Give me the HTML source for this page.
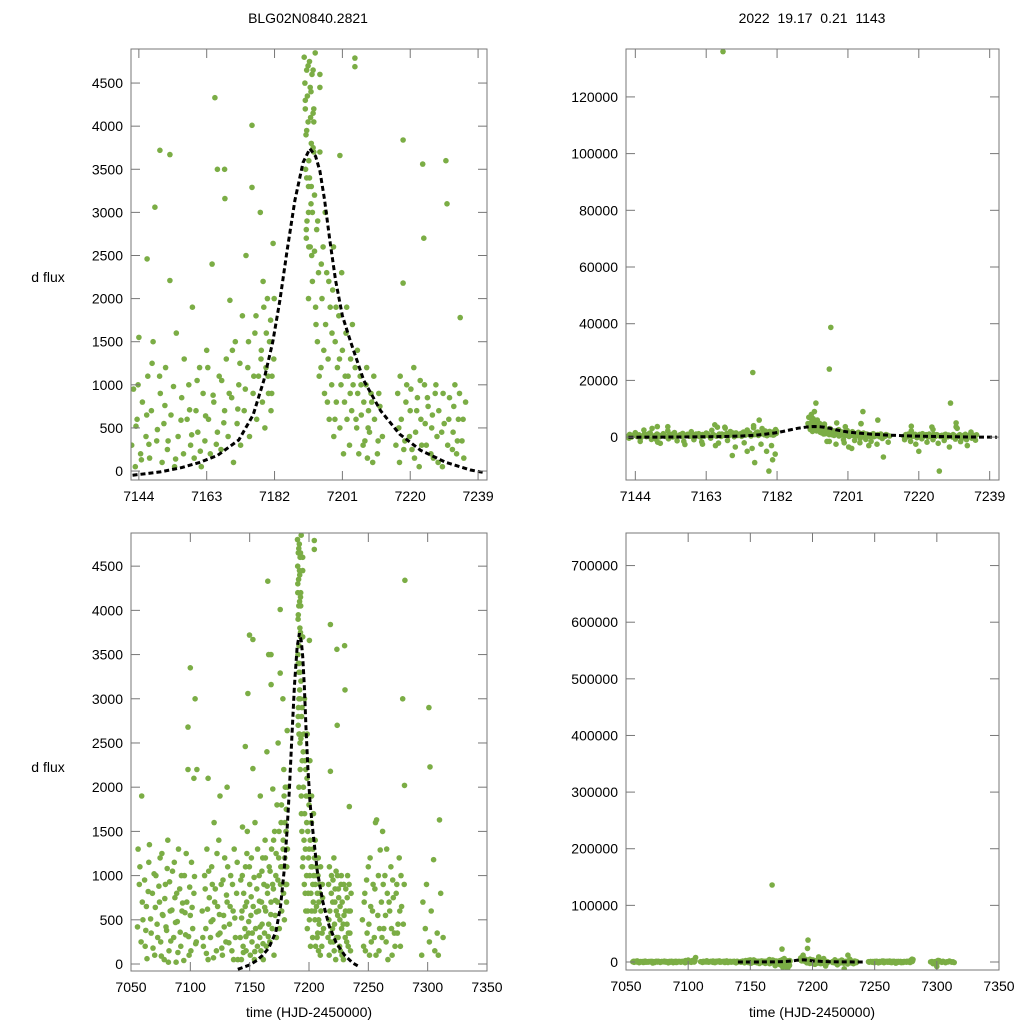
<!DOCTYPE html>
<html><head><meta charset="utf-8"><style>
html,body{margin:0;padding:0;background:#fff}
svg{display:block;font-family:"Liberation Sans",sans-serif}
</style></head><body>
<svg id="chart" width="1024" height="1024" viewBox="0 0 1024 1024" xmlns="http://www.w3.org/2000/svg">
<rect width="1024" height="1024" fill="#fff"/>
<text x="308" y="23" font-size="14" text-anchor="middle">BLG02N0840.2821</text>
<text x="812" y="23" font-size="14" text-anchor="middle" xml:space="preserve">2022  19.17  0.21  1143</text>
<text x="48" y="282" font-size="14" text-anchor="middle">d flux</text>
<text x="48" y="772" font-size="14" text-anchor="middle">d flux</text>
<text x="309" y="1017" font-size="14" text-anchor="middle">time (HJD-2450000)</text>
<text x="812" y="1017" font-size="14" text-anchor="middle">time (HJD-2450000)</text>
</svg>
<script>
const season1=[[7056,1300],[7057,900],[7059,1900],[7060,500],[7062,200],[7063,650],[7065,1150],[7066,-300],[7067,350],[7068,800],[7070,100],[7071,1000],[7072,450],[7073,-800],[7074,700],[7075,250],[7076,1250],[7077,550],[7078,50],[7079,900],[7080,380],[7081,1400],[7082,150],[7083,600],[7084,-1500],[7085,1050],[7086,300],[7087,750],[7088,20],[7089,480],[7090,1300],[7091,850],[7092,200],[7093,600],[7094,-400],[7095,1000],[7096,330],[7097,700],[7098,2200],[7099,100],[7100,550],[7101,1150],[7102,400],[7103,800],[7104,3000],[7105,250],[7106,8000],[7100,3350],[7103,2100],[7098,2680],[7064,-900],[7088,-1200]];
const season1b=[[7055.5,420],[7056.5,-600],[7057.5,1100],[7058.5,250],[7059.5,700],[7060.5,-1200],[7061.5,950],[7062.5,380],[7063.5,60],[7064.5,820],[7065.5,1350],[7066.5,510],[7067.5,-250],[7068.5,180],[7069.5,1020],[7070.5,640],[7071.5,-1800],[7072.5,300],[7073.5,880],[7074.5,1200],[7075.5,90],[7076.5,560],[7077.5,-700],[7078.5,740],[7079.5,420],[7080.5,1080],[7081.5,20],[7082.5,930],[7083.5,260],[7084.5,610],[7085.5,-350],[7086.5,1150],[7087.5,470],[7088.5,800],[7089.5,130],[7090.5,-900],[7091.5,360],[7092.5,1000],[7093.5,690],[7094.5,40],[7095.5,580],[7096.5,1250],[7097.5,-1300],[7098.5,310],[7099.5,870],[7100.5,150],[7101.5,640],[7102.5,-500],[7103.5,990],[7104.5,230],[7105.5,2200]];
const season2=[[7110,600],[7111,200],[7112,1000],[7113,400],[7114,1300],[7115,50],[7116,750],[7117,300],[7118,1100],[7119,500],[7120,-600],[7121,850],[7122,150],[7123,650],[7124,1400],[7125,350],[7126,900],[7127,100],[7128,550],[7129,1200],[7130,250],[7131,700],[7132,-900],[7133,450],[7134,1000],[7135,150],[7136,600],[7137,1300],[7138,300],[7139,800],[7140,50],[7115,2100],[7125,1900],[7131,2000],[7120,1600]];
const season2b=[[7110.5,300],[7111.5,-700],[7112.5,850],[7113.5,120],[7114.5,620],[7115.5,1050],[7116.5,-300],[7117.5,480],[7118.5,900],[7119.5,70],[7120.5,700],[7121.5,-1100],[7122.5,1250],[7123.5,330],[7124.5,560],[7125.5,-400],[7126.5,180],[7127.5,950],[7128.5,420],[7129.5,-800],[7130.5,780],[7131.5,1100],[7132.5,240],[7133.5,650],[7134.5,-200],[7135.5,900],[7136.5,50],[7137.5,520],[7138.5,-1400],[7139.5,1150]];
const season3=[[7142,300],[7142.5,950],[7143,50],[7143.5,600],[7144,1550],[7144.5,200],[7145,800],[7145.5,-200],[7146,400],[7146.3,2460],[7146.5,1100],[7147,150],[7147.5,700],[7148,1500],[7148.5,3060],[7149,350],[7149.5,-700],[7149.9,3720],[7150,900],[7150.5,100],[7151,550],[7151.5,1200],[7152,250],[7152.7,3670],[7152.7,2210],[7153,650],[7154,50],[7154.5,1600],[7155,400],[7155.4,763000],[7156,850],[7156.5,200],[7157,-1500],[7157.5,600],[7158,1000],[7158.5,300],[7159,1900],[7159.5,150],[7160,700],[7160.5,450],[7161,1200],[7161.5,50],[7162,900],[7162.5,350],[7163,1400],[7163.5,600],[7164,200],[7164.5,2400],[7165,800],[7165.3,4330],[7165.5,-3000],[7166,450],[7166.5,1100],[7167,250],[7167.5,136000],[7168,700],[7168.1,3160],[7168.5,1300],[7169,400],[7169.5,1980],[7170,850],[7170.5,100],[7171,1500],[7171.5,550],[7172,1000],[7172.5,300],[7173,1800],[7173.5,700],[7174,-5000],[7174.5,1200],[7175,400],[7175.5,22800],[7175.7,4010],[7175.7,3290],[7176,900],[7176.5,1600],[7177,600],[7177.5,1100],[7178.3,1400],[7178.6,800],[7179,1900],[7179.3,500],[7179.6,1200],[7180,2000],[7180.3,900],[7180.6,1500],[7181,700],[7181.3,1100],[7181.6,2640],[7181.8,1300],[7180.8,-8000],[7179.8,-12000],[7177.2,6000],[7176,-9000],[7162,-2500],[7150,-1800],[7168,3500]];
const season3b=[[7142.3,-400],[7143.2,520],[7143.8,1000],[7144.7,130],[7145.3,-1500],[7146.2,650],[7146.8,310],[7147.7,1250],[7148.3,-800],[7149.2,480],[7149.8,1100],[7150.7,-2200],[7151.3,760],[7152.2,350],[7152.9,-600],[7153.7,980],[7154.3,140],[7155.2,-1300],[7155.8,590],[7156.7,1300],[7157.3,-2600],[7158.2,710],[7158.8,420],[7159.7,-900],[7160.3,1050],[7161.2,230],[7161.8,-1700],[7162.7,640],[7163.3,1200],[7164.2,-400],[7164.8,880],[7165.7,310],[7166.3,-2100],[7167.2,1050],[7167.8,560],[7168.7,-1200],[7169.3,900],[7170.2,1400],[7170.8,-3500],[7171.7,720],[7172.3,1250],[7173.2,-2000],[7173.8,950],[7174.7,1500],[7175.3,-4000],[7176.2,1100],[7176.8,1800],[7177.7,-2500],[7178.2,1300],[7178.8,2200],[7179.2,-5000],[7179.7,1600],[7180.2,1100],[7180.5,-3000],[7180.9,1750],[7181.2,900],[7181.5,-6000],[7181.9,2000],[7178.0,3000],[7174.0,2500],[7170.0,-6500],[7166.0,3500]];
const peakSeason=[[7190.3,4800],[7190.5,4500],[7190.6,4200],[7190.8,3900],[7191,4650],[7191.2,4350],[7191.4,4050],[7191.6,3600],[7191.8,4750],[7192,4450],[7192.1,4100],[7192.3,3800],[7192.5,4600],[7190.7,3500],[7191.5,3300],[7192.2,3100],[7191.1,2900],[7190.9,2700],[7192.4,2500],[7191.3,5500],[7191.7,6500],[7192,9000],[7190.5,7000],[7191.5,2000],[7192.8,4650],[7192.8,4150],[7192.8,3750],[7190.6,4300],[7191,3950],[7191.4,4700],[7191.8,3400],[7192.2,4400],[7192.6,3000],[7193,3700],[7193.4,4850],[7190.9,2800],[7191.6,2600],[7192.4,12000],[7191.2,8000],[7192.8,6000],[7193.2,3200],[7191.7,5200]];
const declineSeason=[[7191,3400],[7191.5,3000],[7192,2600],[7192.3,3300],[7192.6,2200],[7193,4200],[7193,4050],[7193.2,2550],[7193.5,1900],[7193.8,2800],[7194,1500],[7194.3,2300],[7194.7,4600],[7194.7,4450],[7194.7,3700],[7195,1200],[7195.3,2000],[7195.6,2600],[7196,900],[7196.3,1700],[7196.4,38700],[7196,24000],[7196.6,2300],[7197,1300],[7197.3,600],[7197.6,1900],[7198,1000],[7198.3,2100],[7198.6,400],[7199,1500],[7199.3,800],[7199.6,1200],[7200,1800],[7200.3,3660],[7200.3,500],[7200.6,1000],[7201,1400],[7201.3,200],[7201.6,800],[7202,1600],[7202.3,600],[7202.6,1100],[7203,300],[7203.3,1300],[7203.6,700],[7204,1000],[7204.5,4790],[7204.5,4690],[7204.3,-500],[7204.6,1200],[7205,500],[7205.3,900],[7205.6,200],[7206,1100],[7206.3,650],[7206.6,-3000],[7207,800],[7207.3,350],[7207.6,1000],[7208,150],[7208.3,700],[7208.6,450],[7209,900],[7209.5,100],[7210,600],[7210.5,-7000],[7211,350],[7211.5,750],[7205,9000],[7209,6000],[7198,5000],[7202,-4000],[7200,-2000],[7196,-1500],[7216,300],[7216.5,900],[7217,100],[7217.5,600],[7218,2180],[7218,3840],[7218.5,350],[7219,1000],[7219.5,-200],[7220,700],[7220.5,250],[7221,1200],[7221.5,450],[7222,850],[7222.5,50],[7223,600],[7223.5,3560],[7223.8,2700],[7224,1000],[7224.5,300],[7225,750],[7225.5,-12000],[7226,500],[7226.5,150],[7227,900],[7227.5,400],[7228,700],[7228.5,12000],[7229,50],[7229.5,550],[7230,3600],[7230.3,3100],[7230.5,300],[7231,850],[7231.5,-500],[7232,450],[7232.5,1000],[7233,200],[7233.5,600],[7234,1780],[7234.5,350],[7235,150],[7235.5,800],[7220,-5000],[7230,5000],[7233,-3000]];
const declineSeasonB=[[7193.6,1700],[7194.1,2900],[7194.5,1100],[7195.1,2400],[7195.4,-1500],[7195.8,1400],[7196.2,3000],[7196.8,800],[7197.2,2200],[7197.8,-2500],[7198.1,1600],[7198.5,2600],[7198.9,600],[7199.2,1900],[7199.8,-1000],[7200.2,1300],[7200.8,2300],[7201.2,-3500],[7201.8,1100],[7202.2,1900],[7202.8,-1200],[7203.2,900],[7203.8,1700],[7204.2,-2000],[7204.8,600],[7205.2,1400],[7205.8,-800],[7206.2,1000],[7206.8,300],[7207.2,-1500],[7207.8,1200],[7208.2,500],[7208.8,-2500],[7209.2,800],[7209.8,1100],[7210.2,-500],[7210.8,200],[7211.2,900],[7211.8,-1800],[7212.2,400],[7216.2,-900],[7216.8,500],[7217.2,1100],[7217.8,-1500],[7218.2,250],[7218.8,800],[7219.2,-2500],[7219.8,400],[7220.2,950],[7220.8,-600],[7221.2,150],[7221.8,700],[7222.2,-1800],[7222.8,1050],[7223.2,300],[7223.8,-900],[7224.2,550],[7224.8,850],[7225.2,-2200],[7225.8,200],[7226.2,650],[7226.8,-1200],[7227.2,1000],[7227.8,100],[7228.2,-3500],[7228.8,450],[7229.2,900],[7229.8,-700],[7230.8,600],[7231.2,-1600],[7231.8,250],[7232.2,750],[7232.8,-900],[7233.2,350],[7233.8,900],[7234.2,-400],[7234.8,600],[7235.2,-1100]];
const season5=[[7245,500],[7246,200],[7247,800],[7248,-400],[7249,350],[7250,1100],[7251,100],[7252,650],[7253,-1500],[7254,900],[7255,300],[7256,1600],[7257,1630],[7258,550],[7259,150],[7260,1290],[7261,700],[7262,-300],[7263,400],[7264,1000],[7265,250],[7266,800],[7267,-2000],[7268,600],[7269,1100],[7270,100],[7271,750],[7272,350],[7273,-700],[7274,900],[7275,450],[7276,1200],[7277,200],[7278,650],[7279,3000],[7280,5000],[7280.8,4340],[7280.5,2020],[7262,1500],[7250,-800]];
const season5b=[[7245.5,-300],[7246.5,700],[7247.5,150],[7248.5,950],[7249.5,-900],[7250.5,450],[7251.5,1200],[7252.5,250],[7253.5,600],[7254.5,-500],[7255.5,850],[7256.5,100],[7257.5,-1200],[7258.5,1000],[7259.5,400],[7260.5,-400],[7261.5,300],[7262.5,900],[7263.5,-1000],[7264.5,550],[7265.5,1300],[7266.5,50],[7267.5,700],[7268.5,-600],[7269.5,400],[7270.5,950],[7271.5,-1100],[7272.5,200],[7273.5,800],[7274.5,350],[7275.5,-300],[7276.5,600],[7277.5,1000],[7278.5,-800],[7279.5,450],[7280.2,900]];
const season6=[[7295,100],[7296,700],[7297,-3000],[7298,400],[7299,900],[7300,-8000],[7301,2900],[7301.5,250],[7302,2230],[7303,600],[7304,-500],[7305,1180],[7306,150],[7307,-1200],[7308,350],[7309,100],[7310,1630],[7311,800],[7312,-400],[7313,300],[7314,-900]];
const modelTimes=[7140,7144,7150,7156,7161,7166,7172,7176,7179,7181.5,7183.5,7185.5,7187.7,7190,7191.9,7193.5,7194.7,7196,7197.5,7199.1,7201,7203.3,7207,7211.7,7217,7222.9,7230,7236.9,7241];
const modelFlux=[-60,-40,-10,40,100,180,360,650,1050,1500,1980,2550,3140,3580,3740,3650,3480,3150,2670,2210,1800,1500,1050,700,430,240,100,12,-20];
const yTicksSmall=[0,500,1000,1500,2000,2500,3000,3500,4000,4500];
const yTicksTR=[0,20000,40000,60000,80000,100000,120000];
const yTicksBR=[0,100000,200000,300000,400000,500000,600000,700000];
const xTicksZoom=[7144,7163,7182,7201,7220,7239];
const xTicksFull=[7050,7100,7150,7200,7250,7300,7350];

const allObs=[].concat(season1,season1b,season2,season2b,season3,season3b,peakSeason,declineSeason,declineSeasonB,season5,season5b,season6);
const NS='http://www.w3.org/2000/svg';
const svg=document.getElementById('chart');
function mk(tag,attrs,parent){const e=document.createElementNS(NS,tag);for(const k in attrs)e.setAttribute(k,attrs[k]);(parent||svg).appendChild(e);return e;}

const panels=[
 {id:'top-left',L:131,R:487,T:49,B:480,x0:7141.8,x1:7241.5,y0:-104,y1:4895,xt:xTicksZoom,yt:yTicksSmall},
 {id:'top-right',L:626,R:999,T:49,B:480,x0:7141.5,x1:7241.5,y0:-15130,y1:136900,xt:xTicksZoom,yt:yTicksTR},
 {id:'bottom-left',L:131,R:487,T:533,B:971,x0:7050,x1:7350,y0:-79,y1:4875,xt:xTicksFull,yt:yTicksSmall},
 {id:'bottom-right',L:626,R:999,T:533,B:970,x0:7050,x1:7350,y0:-14130,y1:757500,xt:xTicksFull,yt:yTicksBR}
];
panels.forEach(p=>{
 const sx=t=>p.L+(t-p.x0)/(p.x1-p.x0)*(p.R-p.L);
 const sy=v=>p.B-(v-p.y0)/(p.y1-p.y0)*(p.B-p.T);
 const g=mk('g',{});
 
 
 const cp=mk('clipPath',{id:'clip-'+p.id},g);
 mk('rect',{x:p.L,y:p.T,width:p.R-p.L,height:p.B-p.T},cp);
 const pts=mk('g',{'clip-path':'url(#clip-'+p.id+')',fill:'#7bad45'},g);
 
 
 allObs.forEach(o=>{
  const x=sx(o[0]),y=sy(o[1]);
  if(x<p.L-4||x>p.R+4||y<p.T-4||y>p.B+4)return;
  const c=mk('circle',{cx:x.toFixed(1),cy:y.toFixed(1),r:2.8},pts);
  
  
 });
 const d=modelTimes.map((t,i)=>(i?'L':'M')+sx(t).toFixed(1)+','+sy(modelFlux[i]).toFixed(1)).join('');
 const ml=mk('path',{d:d,fill:'none',stroke:'#000','stroke-width':3,'stroke-dasharray':'5,3','clip-path':'url(#clip-'+p.id+')'},g);
 
 
 const fr=mk('rect',{x:p.L,y:p.T,width:p.R-p.L,height:p.B-p.T,fill:'none',stroke:'#777','stroke-width':1},g);
 
 
 p.xt.forEach(t=>{
  const x=sx(t);
  mk('line',{x1:x,x2:x,y1:p.B,y2:p.B-9,stroke:'#777'},g);
  mk('line',{x1:x,x2:x,y1:p.T,y2:p.T+9,stroke:'#777'},g);
  const tx=mk('text',{x:x,y:p.B+21,'font-size':14,'text-anchor':'middle'},g);
  tx.textContent=t;
  
  
 });
 p.yt.forEach(v=>{
  const y=sy(v);
  mk('line',{x1:p.L,x2:p.L+9,y1:y,y2:y,stroke:'#777'},g);
  mk('line',{x1:p.R,x2:p.R-9,y1:y,y2:y,stroke:'#777'},g);
  const ty=mk('text',{x:p.L-8,y:y+5,'font-size':14,'text-anchor':'end'},g);
  ty.textContent=v;
  
  
 });
});
</script>
</body></html>
